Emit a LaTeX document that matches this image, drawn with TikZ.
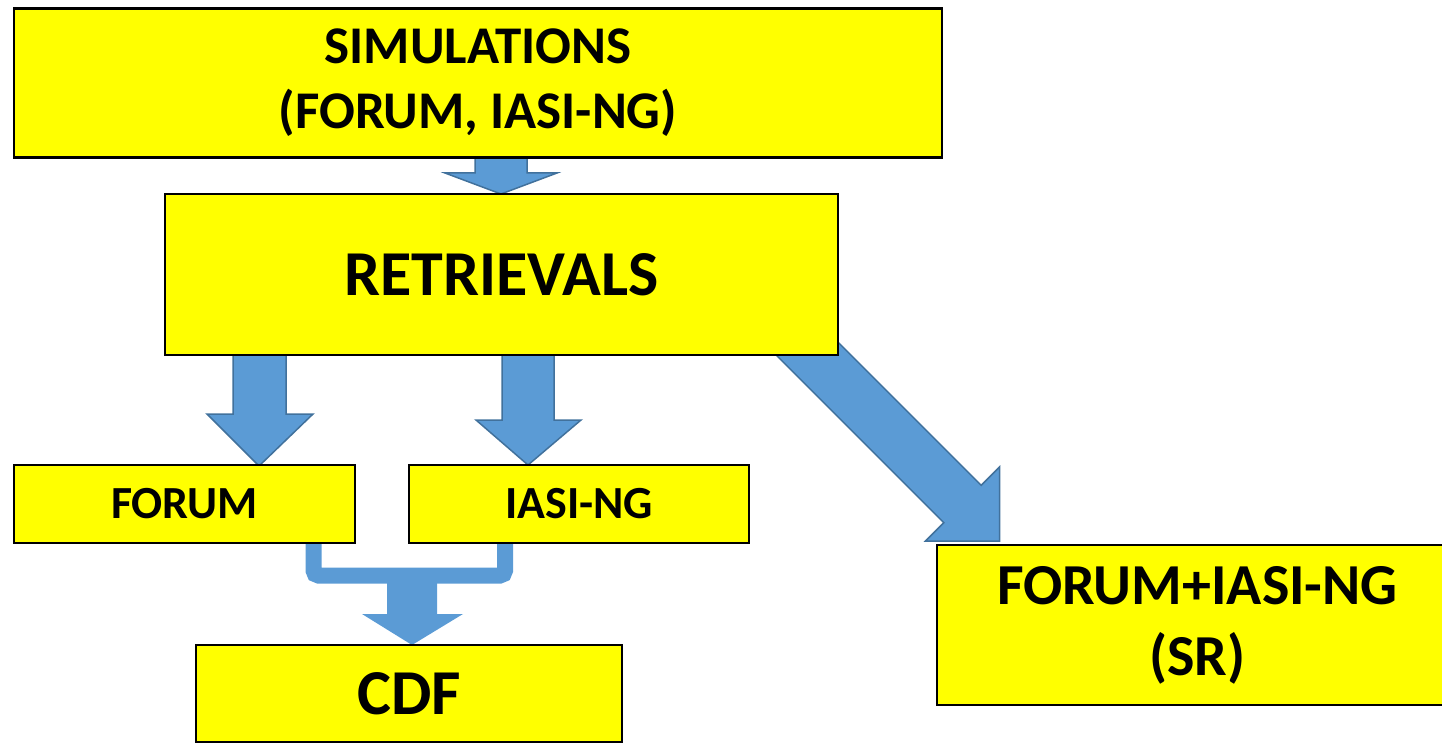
\documentclass[tikz,border=0pt]{standalone}
\usepackage{fontspec}
\setmainfont{Carlito}
\definecolor{boxyellow}{HTML}{FFFF00}
\definecolor{arrowfill}{HTML}{5B9BD5}
\definecolor{arrowline}{HTML}{41719C}
\begin{document}
\begin{tikzpicture}[x=1pt,y=-1pt,
  box/.style={draw=black,line width=2.5pt,fill=boxyellow,inner sep=0pt,align=center},
  blockarrow/.style={fill=arrowfill,draw=arrowline,line width=1.5pt,line join=miter},
  bracketarrow/.style={fill=arrowfill}]
\useasboundingbox (0,0) rectangle (1442,743);
% arrows (behind boxes)
\draw[blockarrow] (475,150) -- (527,150) -- (527,173) -- (557,173) -- (501,194) -- (445,173) -- (475,173) -- cycle;
\draw[blockarrow] (233,350) -- (286,350) -- (286,414) -- (313,414) -- (259,466) -- (207,414) -- (233,414) -- cycle;
\draw[blockarrow] (502,350) -- (554,350) -- (554,420) -- (581,420) -- (528,465) -- (476,420) -- (502,420) -- cycle;
\draw[blockarrow] (769.8,348.7) -- (943.8,522.7) -- (925.4,541.1) -- (999.6,541.1) -- (999.6,466.9) -- (981.2,485.3) -- (807.2,311.3) -- cycle;
\draw[arrowfill,line width=16pt,rounded corners=5pt] (313.5,538) -- (313.5,575.5) -- (505,575.5) -- (505,538);
\fill[bracketarrow] (387,575) -- (437,575) -- (437,614) -- (463,614) -- (412,645) -- (362,614) -- (387,614) -- cycle;
% boxes
\node[box,minimum width=928pt,minimum height=149pt,font=\bfseries\fontsize{53}{65}\selectfont] (sim) at (478,83)
  {SIMULATIONS\\(FORUM, IASI-NG)};
\node[box,minimum width=673pt,minimum height=161pt,font=\bfseries\fontsize{64}{75}\selectfont] (ret) at (501.5,274.5)
  {RETRIEVALS};
\node[box,minimum width=341pt,minimum height=78pt,font=\bfseries\fontsize{46}{50}\selectfont] (forum) at (184.5,504)
  {FORUM};
\node[box,minimum width=340pt,minimum height=78pt,font=\bfseries\fontsize{46}{50}\selectfont] (iasi) at (579,504)
  {IASI-NG};
\node[box,minimum width=521pt,minimum height=160pt,font=\bfseries\fontsize{58}{71}\selectfont] (sr) at (1197.5,625)
  {FORUM+IASI-NG\\(SR)};
\node[box,minimum width=426pt,minimum height=97pt,font=\bfseries\fontsize{64}{80}\selectfont] (cdf) at (409,693.5)
  {CDF};
\end{tikzpicture}
\end{document}
